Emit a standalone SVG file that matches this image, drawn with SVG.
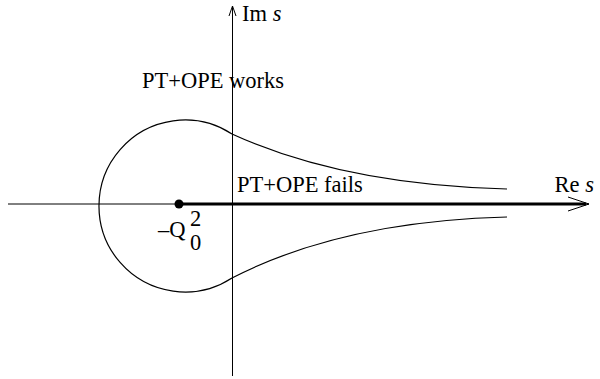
<svg xmlns="http://www.w3.org/2000/svg" width="600" height="379" viewBox="0 0 600 379">
<style>
text{font-family:"Liberation Serif","Times New Roman",serif;font-size:22.5px;fill:#000}
.ax{stroke:#000;stroke-width:1;fill:none}
.cv{stroke:#000;stroke-width:1.2;fill:none}
</style>
<rect width="600" height="379" fill="#fff"/>
<g id="connectors">
<line class="ax" x1="8" y1="204" x2="589" y2="204"/>
<line class="ax" x1="232.5" y1="376" x2="232.5" y2="6"/>
<polyline class="ax" points="229,16 232.5,6 236,16"/>
<line x1="179" y1="204" x2="586" y2="204" stroke="#000" stroke-width="3.2"/>
<polyline class="ax" points="568,197 589,204 568,211" stroke-width="1.2"/>
<path class="cv" d="M232,134 A86,86 0 1 0 232,278"/>
<path class="cv" d="M232,134 C300,165 390,186 507,189"/>
<path class="cv" d="M232,278 C300,243 390,220 507,217"/>
</g>
<g id="point"><circle cx="179" cy="204" r="4.5" fill="#000"/></g>
<g id="labels">
<text x="242" y="21" font-size="20">Im <tspan font-style="italic">s</tspan></text>
<text x="594" y="192" font-size="18" text-anchor="end">Re <tspan font-style="italic">s</tspan></text>
<text x="142" y="88">PT+OPE works</text>
<text x="237" y="192">PT+OPE fails</text>
<text x="158" y="237" font-size="21">–Q</text>
<text x="190" y="226" font-size="15">2</text>
<text x="190" y="250" font-size="15">0</text>
</g>
</svg>
